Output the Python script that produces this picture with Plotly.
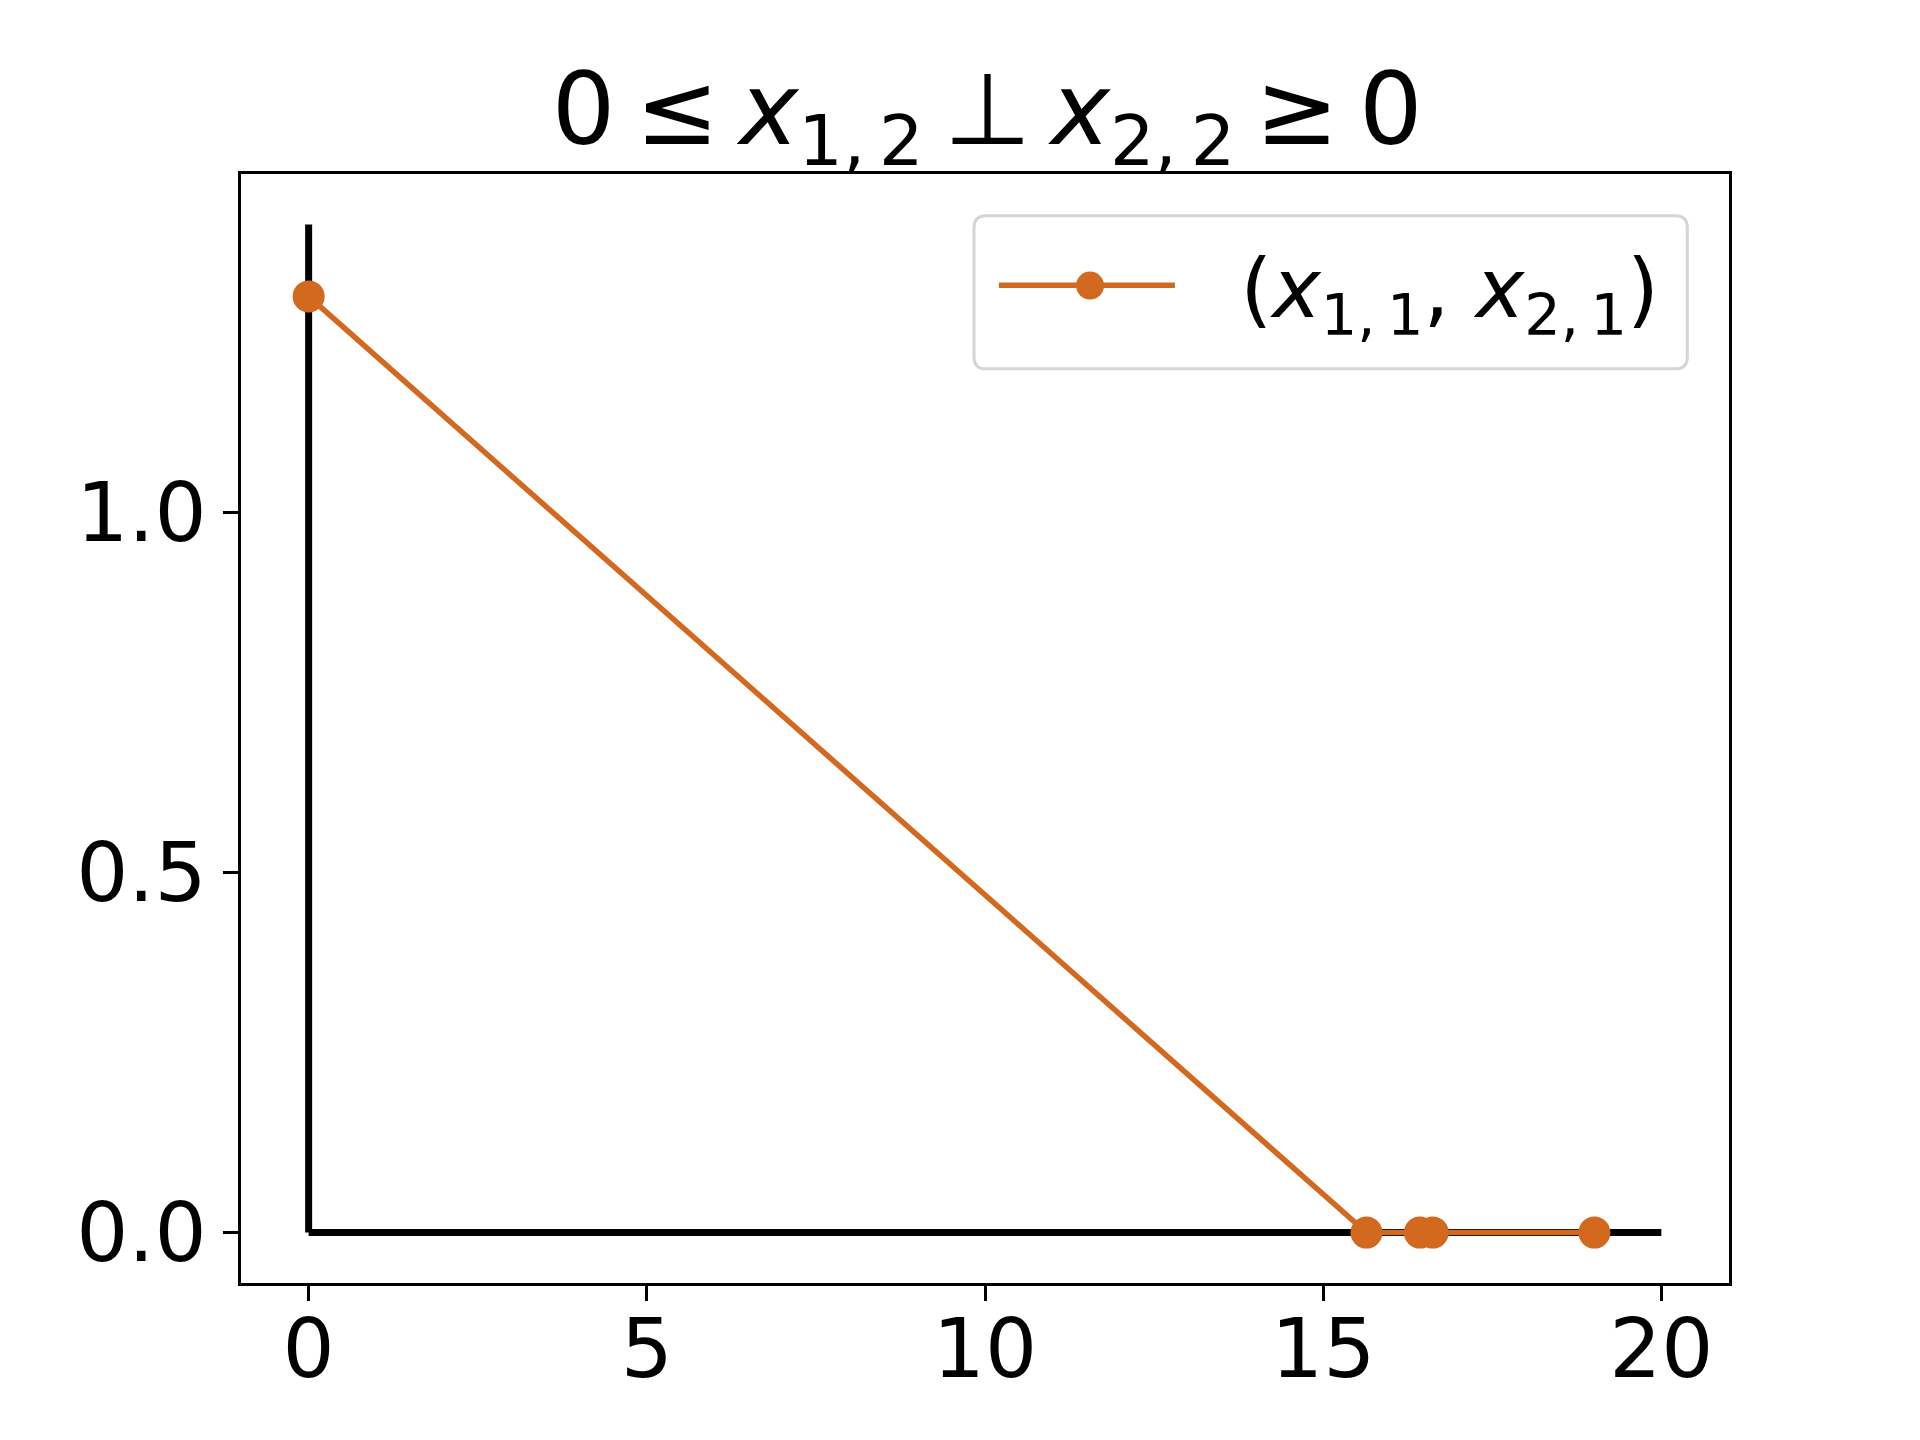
import plotly.graph_objects as go

# complementarity path (x_{1,1}, x_{2,1})
path_x = [0, 15.64, 16.43, 16.62, 19.01]
path_y = [1.3, 0, 0, 0, 0]

# black axes of the feasible set
vert_x = [0, 0]
vert_y = [0, 1.4]
horiz_x = [0, 20]
horiz_y = [0, 0]

x_ticks = [0, 5, 10, 15, 20]
y_ticks = [0.0, 0.5, 1.0]

orange = "#d2691e"
font = "DejaVu Sans"
thin = "\u2009"

fig = go.Figure()
fig.add_trace(go.Scatter(x=vert_x, y=vert_y, mode="lines",
                         line=dict(color="black", width=7), showlegend=False))
fig.add_trace(go.Scatter(x=horiz_x, y=horiz_y, mode="lines",
                         line=dict(color="black", width=7), showlegend=False))
fig.add_trace(go.Scatter(
    x=path_x, y=path_y, mode="lines+markers",
    name=f"\u00a0\u00a0\u200a(<i>x</i><sub>1,{thin}1</sub>, <i>x</i><sub>2,{thin}1</sub>)",
    line=dict(color=orange, width=5.5),
    marker=dict(color=orange, size=32)))

axis_style = dict(showgrid=False, zeroline=False, showline=True, mirror=True,
                  linecolor="black", linewidth=3, ticks="outside", ticklen=15,
                  tickwidth=3, tickcolor="black",
                  tickfont=dict(family=font, size=82, color="black"))

fig.update_xaxes(range=[-1, 21], tickvals=x_ticks, ticklabelstandoff=-22, **axis_style)
fig.update_yaxes(range=[-0.07, 1.47], tickvals=y_ticks, tickformat=".1f", **axis_style)

# rounded legend frame (matplotlib style)
x0, x1, y0, y1 = 0.4926, 0.972, 0.8243, 0.9624
rx, ry = 0.008, 0.011
box = (f"M {x0+rx},{y0} L {x1-rx},{y0} Q {x1},{y0} {x1},{y0+ry} "
       f"L {x1},{y1-ry} Q {x1},{y1} {x1-rx},{y1} L {x0+rx},{y1} "
       f"Q {x0},{y1} {x0},{y1-ry} L {x0},{y0+ry} Q {x0},{y0} {x0+rx},{y0} Z")
fig.add_shape(type="path", path=box, xref="paper", yref="paper",
              line=dict(color="#d5d5d5", width=3), fillcolor="white", layer="below")
# larger legend marker (plotly caps legend marker size)
fig.add_shape(type="circle", xref="paper", yref="paper",
              xsizemode="pixel", ysizemode="pixel",
              xanchor=0.5706, yanchor=0.8994, x0=-14, x1=14, y0=-14, y1=14,
              fillcolor=orange, line=dict(width=0))

title = (f"0{thin}≤{thin}<i>x</i><sub>1,{thin}2</sub>{thin}⊥{thin}"
         f"<i>x</i><sub>2,{thin}2</sub>{thin}≥{thin}0")

fig.update_layout(
    width=1920, height=1440,
    margin=dict(l=233, r=199, t=166, b=165),
    plot_bgcolor="white", paper_bgcolor="white",
    title=dict(text=title, x=0.51, xanchor="center", y=1 - 101 / 1440, yanchor="middle",
               yref="container", font=dict(family=font, size=100, color="black")),
    legend=dict(x=0.506, xanchor="left", y=0.8994, yanchor="middle",
                bgcolor="rgba(0,0,0,0)", borderwidth=0,
                itemwidth=176, font=dict(family=font, size=82, color="black")),
)

fig.write_html("out.html")
